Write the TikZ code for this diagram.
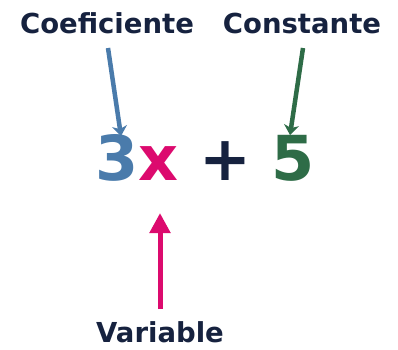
\documentclass[tikz,border=0pt]{standalone}
\usepackage{fontspec}
\setmainfont{DejaVu Sans}
\usetikzlibrary{arrows.meta,calc}
\definecolor{eqnavy}{HTML}{16223F}
\definecolor{eqblue}{HTML}{4A7BAB}
\definecolor{eqpink}{HTML}{DC0A6E}
\definecolor{eqgreen}{HTML}{2E6C47}

\begin{document}
\begin{tikzpicture}[
    x=1pt, y=-1pt,
    label/.style={inner sep=0pt, anchor=base, text=eqnavy,
                  font=\bfseries\fontsize{27.5}{33}\selectfont},
    term/.style={inner sep=0pt, anchor=base,
                 font=\bfseries\fontsize{62}{70}\selectfont},
    thinarrow/.style={-{Stealth[length=10pt, width=15pt, inset=3pt]}, line width=4.5pt},
    bigarrow/.style={-{Triangle[length=20pt, width=20pt]}, line width=5pt}
  ]
    \useasboundingbox (0,0) rectangle (398,349);
    % labels
    \node[label] (coef) at (107,33)  {Coeficiente};
    \node[label] (cons) at (302,33)  {Constante};
    \node[label] (var)  at (160,342) {Variable};
    % the expression
    \node[term, text=eqblue]  (three) at (117,180) {3};
    \node[term, text=eqpink]  (ex)    at (158,180) {x};
    \node[term, text=eqnavy]  (plus)  at (225,180) {+};
    \node[term, text=eqgreen] (five)  at (293,180) {5};
    % pointers
    \draw[thinarrow, eqblue]  ($(coef.base)+(1,15)$)  -- ($(three.base)+(4,-44)$);
    \draw[thinarrow, eqgreen] ($(cons.base)+(1,15)$)  -- ($(five.base)+(-3,-45)$);
    \draw[bigarrow, eqpink]   ($(var.base)+(0,-33)$)  -- ($(ex.base)+(2,33)$);
\end{tikzpicture}
\end{document}
